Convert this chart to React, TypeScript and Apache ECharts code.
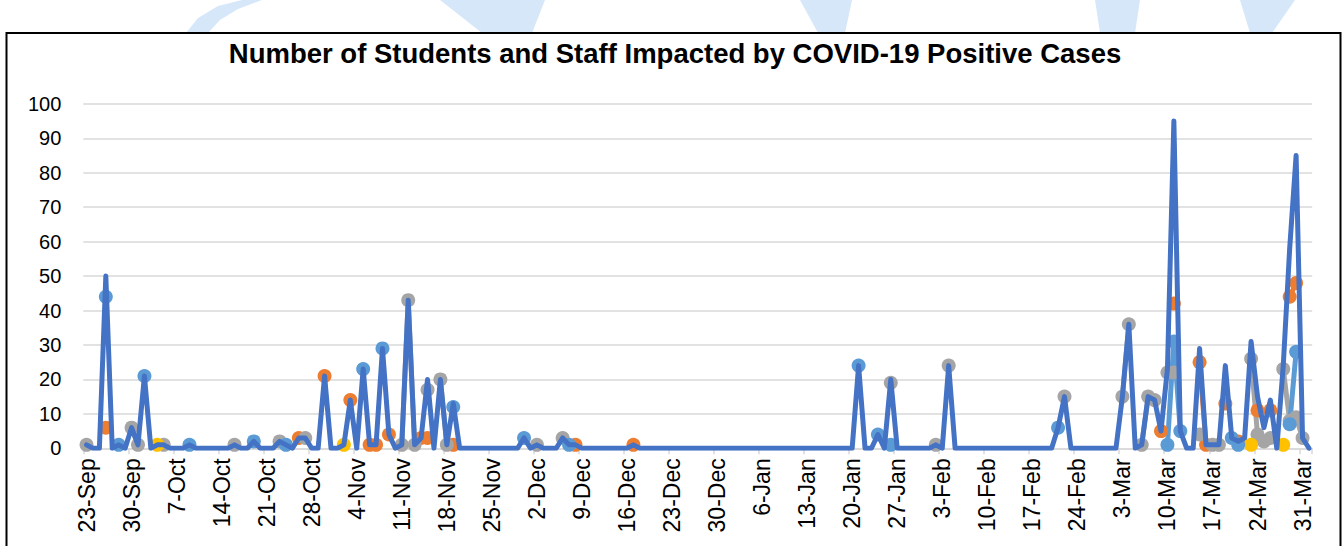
import React, { useEffect, useRef } from "react";
import * as echarts from "echarts";

const MONTHS = ["Jan", "Feb", "Mar", "Apr", "May", "Jun", "Jul", "Aug", "Sep", "Oct", "Nov", "Dec"];
const DAY_COUNT = 191; // 23-Sep .. 1-Apr

const categories: string[] = [];
for (let i = 0; i < DAY_COUNT; i++) {
  const d = new Date(2020, 8, 23 + i);
  categories.push(`${d.getDate()}-${MONTHS[d.getMonth()]}`);
}

const TITLE = "Number of Students and Staff Impacted by COVID-19 Positive Cases";

// total per day (dark blue line)
const totalValues: number[] = [
  1, 0, 0, 50, 0, 1, 0, 6, 1, 21,
  0, 1, 1, 0, 0, 0, 1, 0, 0, 0,
  0, 0, 0, 1, 0, 0, 2, 0, 0, 0,
  2, 1, 0, 3, 3, 0, 0, 21, 0, 0,
  1, 14, 0, 23, 1, 1, 29, 4, 0, 1,
  43, 1, 3, 20, 0, 20, 1, 13, 0, 0,
  0, 0, 0, 0, 0, 0, 0, 0, 3, 0,
  1, 0, 0, 0, 3, 1, 1, 0, 0, 0,
  0, 0, 0, 0, 0, 1, 0, 0, 0, 0,
  0, 0, 0, 0, 0, 0, 0, 0, 0, 0,
  0, 0, 0, 0, 0, 0, 0, 0, 0, 0,
  0, 0, 0, 0, 0, 0, 0, 0, 0, 0,
  24, 0, 0, 4, 0, 20, 0, 0, 0, 0,
  0, 0, 1, 0, 24, 0, 0, 0, 0, 0,
  0, 0, 0, 0, 0, 0, 0, 0, 0, 0,
  0, 6, 15, 0, 0, 0, 0, 0, 0, 0,
  0, 15, 36, 0, 1, 15, 14, 5, 23, 95,
  5, 0, 0, 29, 1, 1, 1, 24, 3, 2,
  3, 31, 15, 6, 14, 0, 24, 58, 85, 3,
  0,
];

// component series: [dayIndex, value]
const orangePoints: [number, number][] = [
  [3, 6], [33, 3], [37, 21], [41, 14], [44, 1], [45, 1], [47, 4], [52, 3], [53, 3], [57, 1],
  [76, 1], [85, 1], [167, 5], [169, 42], [173, 25], [174, 1], [177, 13], [179, 2], [182, 11],
  [184, 11], [187, 44], [188, 48],
];
const grayPoints: [number, number][] = [
  [0, 1], [7, 6], [8, 1], [12, 1], [23, 1], [30, 2], [34, 3], [49, 1], [50, 43], [51, 1],
  [53, 17], [55, 20], [56, 1], [70, 1], [74, 3], [125, 19], [132, 1], [134, 24], [152, 15],
  [161, 15], [162, 36], [164, 1], [165, 15], [166, 14], [168, 22], [169, 22], [173, 4],
  [175, 1], [176, 1], [181, 26], [182, 4], [183, 2], [184, 3], [186, 23], [187, 8], [188, 9], [189, 3],
];
const yellowPoints: [number, number][] = [[11, 1], [40, 1], [181, 1], [186, 1]];
const lightBluePoints: [number, number][] = [
  [3, 44], [5, 1], [9, 21], [16, 1], [26, 2], [31, 1], [43, 23], [46, 29], [57, 12], [68, 3],
  [75, 1], [120, 24], [123, 4], [125, 1], [151, 6], [168, 1], [169, 31], [170, 5], [178, 3],
  [179, 1], [187, 7], [188, 28],
];

function toSeriesData(points: [number, number][]): (number | null)[] {
  const arr: (number | null)[] = new Array(DAY_COUNT).fill(null);
  points.forEach(([i, v]) => {
    arr[i] = v;
  });
  return arr;
}

const FONT = '"Liberation Sans", Arial, sans-serif';
const GRID_COLOR = "#d9d9d9";
const WATER = "#d6e7f9";

function componentSeries(name: string, color: string, points: [number, number][]) {
  return {
    name,
    type: "line",
    data: toSeriesData(points),
    connectNulls: false,
    symbol: "circle",
    symbolSize: 14,
    showSymbol: true,
    showAllSymbol: true,
    lineStyle: { color, width: 5, join: "round", cap: "round" },
    itemStyle: { color, borderWidth: 0 },
    z: 2,
  };
}

export default function App() {
  const ref = useRef<HTMLDivElement>(null);
  useEffect(() => {
    if (!ref.current) return;
    const chart = echarts.init(ref.current, undefined, { renderer: "svg" });
    const every7 = (i: number) => i % 7 === 0;
    chart.setOption({
      animation: false,
      backgroundColor: "#ffffff",
      grid: { left: 83.3, right: 30.8, top: 103.8, bottom: 97.7, containLabel: false },
      graphic: [
        { type: "polygon", silent: true, z: 0, shape: { points: [[186, 33], [198, 18], [218, 6], [242, 0], [262, 0], [238, 9], [220, 20], [208, 33]] }, style: { fill: WATER } },
        { type: "polygon", silent: true, z: 0, shape: { points: [[440, 0], [545, 0], [532, 33], [482, 33]] }, style: { fill: WATER } },
        { type: "polygon", silent: true, z: 0, shape: { points: [[800, 0], [852, 0], [845, 33], [818, 33]] }, style: { fill: WATER } },
        { type: "polygon", silent: true, z: 0, shape: { points: [[1095, 0], [1140, 0], [1135, 33], [1100, 33]] }, style: { fill: WATER } },
        { type: "polygon", silent: true, z: 0, shape: { points: [[1240, 0], [1295, 0], [1272, 33], [1250, 33]] }, style: { fill: WATER } },
        {
          type: "rect",
          silent: true,
          z: 0,
          shape: { x: 6.5, y: 33, width: 1334, height: 540 },
          style: { fill: "none", stroke: "#000000", lineWidth: 2 },
        },
        {
          type: "text",
          silent: true,
          z: 5,
          x: 675,
          y: 53,
          style: {
            text: TITLE,
            font: `bold 27.5px ${FONT}`,
            fill: "#000000",
            align: "center",
            verticalAlign: "middle",
          },
        },
      ],
      xAxis: {
        type: "category",
        data: categories,
        boundaryGap: true,
        axisLine: { show: true, lineStyle: { color: GRID_COLOR, width: 1.5 } },
        axisTick: { show: true, interval: every7, alignWithLabel: false, length: 6, lineStyle: { color: GRID_COLOR, width: 1.5 } },
        axisLabel: {
          interval: every7,
          rotate: 90,
          margin: 10,
          color: "#000000",
          fontFamily: FONT,
          fontSize: 23,
        },
        splitLine: { show: false },
      },
      yAxis: {
        type: "value",
        min: 0,
        max: 100,
        interval: 10,
        axisLine: { show: false },
        axisTick: { show: false },
        axisLabel: { color: "#000000", fontFamily: FONT, fontSize: 20, margin: 22 },
        splitLine: { show: true, lineStyle: { color: GRID_COLOR, width: 1.5 } },
      },
      series: [
        componentSeries("Orange", "#ED7D31", orangePoints),
        componentSeries("Gray", "#A5A5A5", grayPoints),
        componentSeries("Yellow", "#FFC000", yellowPoints),
        componentSeries("Light Blue", "#5B9BD5", lightBluePoints),
        {
          name: "Total",
          type: "line",
          data: totalValues,
          showSymbol: false,
          symbol: "none",
          lineStyle: { color: "#4472C4", width: 5, join: "round", cap: "round" },
          itemStyle: { color: "#4472C4" },
          z: 4,
        },
      ],
    });
    return () => {
      chart.dispose();
    };
  }, []);
  return (
    <div
      ref={ref}
      style={{ position: "fixed", left: 0, top: 0, width: 1343, height: 546 }}
    />
  );
}
